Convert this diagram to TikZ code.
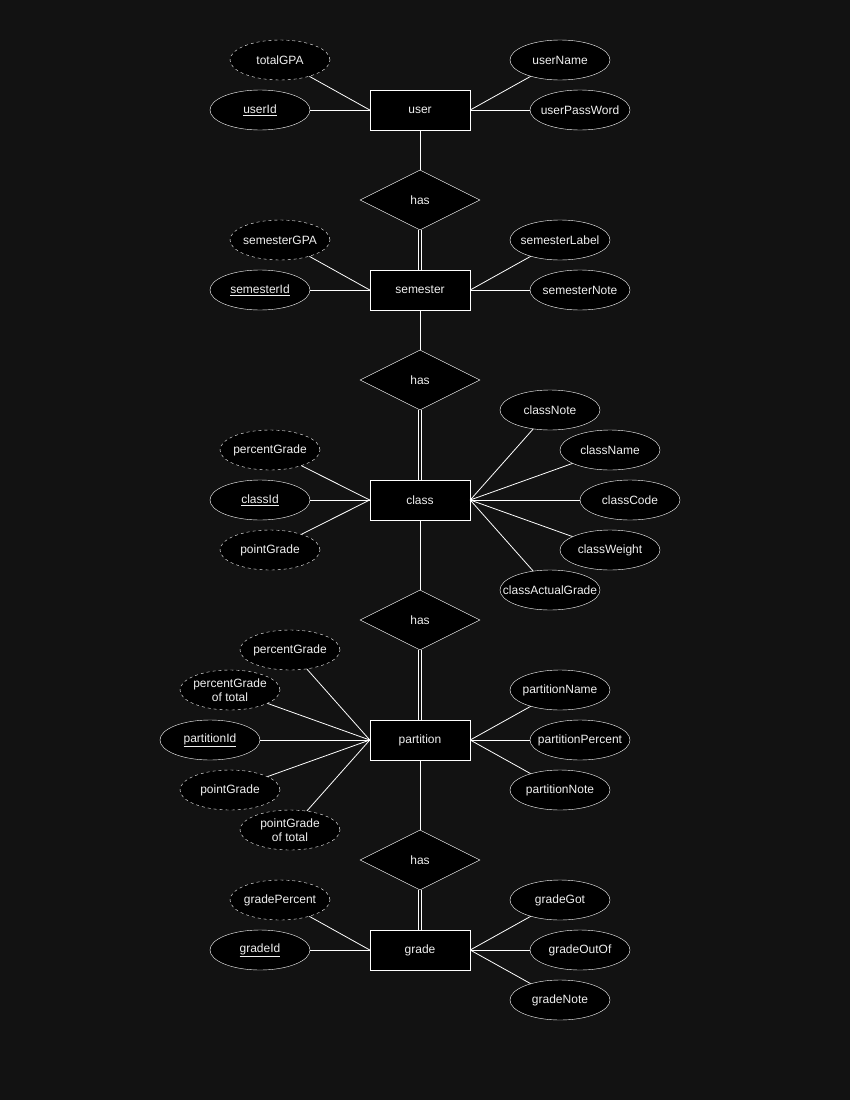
\documentclass[tikz,border=0pt]{standalone}
\usepackage{fontspec}
\setmainfont{Liberation Sans}
\usepackage{tikz}
\usetikzlibrary{shapes,positioning}
\definecolor{bgdark}{HTML}{121212}
\definecolor{inkwhite}{HTML}{F0F0F0}

\begin{document}
\begin{tikzpicture}[x=1pt,y=-1pt,
    every node/.style={font=\fontsize{12}{14}\selectfont,text=inkwhite,align=center},
    entity/.style={draw=white,fill=black,minimum width=100pt,minimum height=40pt,inner sep=0pt},
    attr/.style={ellipse,draw=white,fill=black,minimum width=100pt,minimum height=40pt,
        inner xsep=-13pt,inner ysep=0pt},
    derived/.style={attr,dashed},
    rel/.style={diamond,draw=white,fill=black,minimum width=120pt,minimum height=60pt,aspect=2,inner sep=0pt},
    link/.style={draw=white,line width=0.8pt},
    total/.style={link,double=bgdark,double distance=2.5pt,line width=0.8pt}
  ]
    \fill[bgdark] (0,0) rectangle (850,1100);
    \useasboundingbox (0,0) rectangle (850,1100);

    % entities
    \node[entity] (user) at (420,110) {user};
    \node[entity] (semester) at (420,290) {semester};
    \node[entity] (class) at (420,500) {class};
    \node[entity] (partition) at (420,740) {partition};
    \node[entity] (grade) at (420,950) {grade};

    % relations
    \node[rel] (hasA) at (420,200) {has};
    \node[rel] (hasB) at (420,380) {has};
    \node[rel] (hasC) at (420,620) {has};
    \node[rel] (hasD) at (420,860) {has};

    \draw[link] (user.south) -- (hasA.north);
    \draw[total] (hasA.south) -- (semester.north);
    \draw[link] (semester.south) -- (hasB.north);
    \draw[total] (hasB.south) -- (class.north);
    \draw[link] (class.south) -- (hasC.north);
    \draw[total] (hasC.south) -- (partition.north);
    \draw[link] (partition.south) -- (hasD.north);
    \draw[total] (hasD.south) -- (grade.north);

    % user
    \node[derived] (totalGPA) at (280,60) {totalGPA};
    \node[attr] (userId) at (260,110) {\underline{userId}};
    \node[attr] (userName) at (560,60) {userName};
    \node[attr] (userPassWord) at (580,110) {userPassWord};
    \foreach \a in {totalGPA,userId} \draw[link] (user.west) -- (\a);
    \foreach \a in {userName,userPassWord} \draw[link] (user.east) -- (\a);

    % semester
    \node[derived] (semesterGPA) at (280,240) {semesterGPA};
    \node[attr] (semesterId) at (260,290) {\underline{semesterId}};
    \node[attr] (semesterLabel) at (560,240) {semesterLabel};
    \node[attr] (semesterNote) at (580,290) {semesterNote};
    \foreach \a in {semesterGPA,semesterId} \draw[link] (semester.west) -- (\a);
    \foreach \a in {semesterLabel,semesterNote} \draw[link] (semester.east) -- (\a);

    % class
    \node[derived] (classPercent) at (270,450) {percentGrade};
    \node[attr] (classId) at (260,500) {\underline{classId}};
    \node[derived] (classPoint) at (270,550) {pointGrade};
    \node[attr] (classNote) at (550,410) {classNote};
    \node[attr] (className) at (610,450) {className};
    \node[attr] (classCode) at (630,500) {classCode};
    \node[attr] (classWeight) at (610,550) {classWeight};
    \node[attr] (classActualGrade) at (550,590) {classActualGrade};
    \foreach \a in {classPercent,classId,classPoint} \draw[link] (class.west) -- (\a);
    \foreach \a in {classNote,className,classCode,classWeight,classActualGrade}
        \draw[link] (class.east) -- (\a);

    % partition
    \node[derived] (partPercent) at (290,650) {percentGrade};
    \node[derived] (partPercentTotal) at (230,690) {percentGrade\\of total};
    \node[attr] (partitionId) at (210,740) {\underline{partitionId}};
    \node[derived] (partPoint) at (230,790) {pointGrade};
    \node[derived] (partPointTotal) at (290,830) {pointGrade\\of total};
    \node[attr] (partitionName) at (560,690) {partitionName};
    \node[attr] (partitionPercent) at (580,740) {partitionPercent};
    \node[attr] (partitionNote) at (560,790) {partitionNote};
    \foreach \a in {partPercent,partPercentTotal,partitionId,partPoint,partPointTotal}
        \draw[link] (partition.west) -- (\a);
    \foreach \a in {partitionName,partitionPercent,partitionNote}
        \draw[link] (partition.east) -- (\a);

    % grade
    \node[derived] (gradePercent) at (280,900) {gradePercent};
    \node[attr] (gradeId) at (260,950) {\underline{gradeId}};
    \node[attr] (gradeGot) at (560,900) {gradeGot};
    \node[attr] (gradeOutOf) at (580,950) {gradeOutOf};
    \node[attr] (gradeNote) at (560,1000) {gradeNote};
    \foreach \a in {gradePercent,gradeId} \draw[link] (grade.west) -- (\a);
    \foreach \a in {gradeGot,gradeOutOf,gradeNote} \draw[link] (grade.east) -- (\a);
\end{tikzpicture}
\end{document}
